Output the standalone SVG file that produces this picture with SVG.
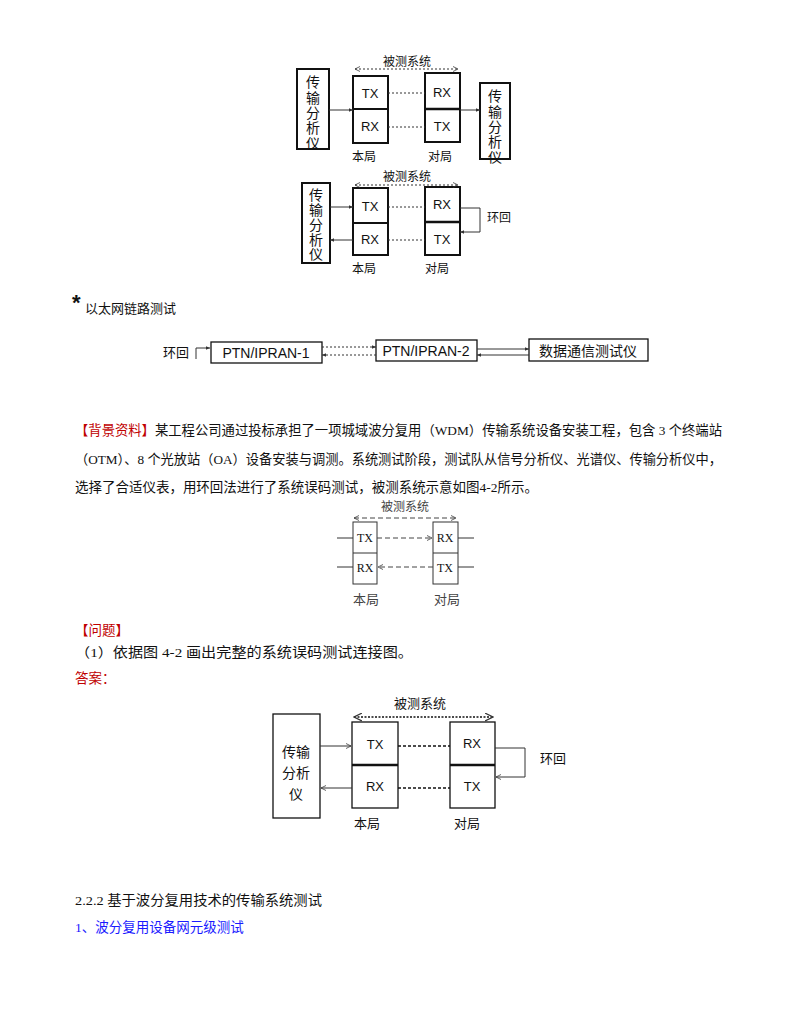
<svg xmlns="http://www.w3.org/2000/svg" width="800" height="1035" viewBox="0 0 800 1035">
<style>
.s{font-family:"Liberation Sans","Noto Sans CJK SC",sans-serif;fill:#111}
.r{font-family:"Liberation Serif","Noto Sans CJK SC",serif;fill:#111}
.b{fill:#fff;stroke:#111;stroke-width:2}
.t{fill:#fff;stroke:#111;stroke-width:1.3}
.ln{stroke:#333;stroke-width:1;fill:none}
.dt{stroke:#333;stroke-width:1;stroke-dasharray:2 2;fill:none}
.red{fill:#c00000}
.blue{fill:#1a1aff}
</style>
<defs>
<marker id="a" viewBox="0 0 8 8" refX="7" refY="4" markerWidth="6" markerHeight="6" orient="auto-start-reverse"><path d="M0,0.5 L7,4 L0,7.5" fill="none" stroke="#333" stroke-width="1"/></marker>
<marker id="f" viewBox="0 0 8 8" refX="7" refY="4" markerWidth="5" markerHeight="5" orient="auto-start-reverse"><path d="M0,1 L7,4 L0,7z" fill="#333"/></marker>
</defs>
<rect width="800" height="1035" fill="#fff"/>

<!-- Diagram 1 -->
<g id="d1">
<g id="d1-analyzer-l"><rect class="b" x="297" y="69" width="32" height="80"/>
<text class="s" font-size="14" text-anchor="middle"><tspan x="313" y="87">传</tspan><tspan x="313" y="103">输</tspan><tspan x="313" y="118">分</tspan><tspan x="313" y="133">析</tspan><tspan x="313" y="148">仪</tspan></text></g>
<g id="d1-local"><rect class="b" x="353" y="76" width="35" height="67"/><line x1="353" y1="109" x2="388" y2="109" stroke="#111" stroke-width="2"/>
<text class="s" font-size="13" text-anchor="middle" x="370" y="98">TX</text><text class="s" font-size="13" text-anchor="middle" x="370" y="131">RX</text></g>
<g id="d1-remote"><rect class="b" x="425" y="73" width="35" height="69"/><line x1="425" y1="109" x2="460" y2="109" stroke="#111" stroke-width="2.5"/>
<text class="s" font-size="13" text-anchor="middle" x="442" y="97">RX</text><text class="s" font-size="13" text-anchor="middle" x="442" y="131">TX</text></g>
<g id="d1-analyzer-r"><rect class="b" x="480" y="83" width="30" height="76"/>
<text class="s" font-size="14" text-anchor="middle"><tspan x="495" y="101">传</tspan><tspan x="495" y="117">输</tspan><tspan x="495" y="132">分</tspan><tspan x="495" y="147">析</tspan><tspan x="495" y="162">仪</tspan></text></g>
<text class="s" font-size="12" text-anchor="middle" x="407" y="66">被测系统</text>
<text class="s" font-size="12" text-anchor="middle" x="364" y="161">本局</text>
<text class="s" font-size="12" text-anchor="middle" x="440" y="161">对局</text>
<g id="d1-connectors">
<line class="dt" x1="355" y1="69" x2="458" y2="69" marker-start="url(#a)" marker-end="url(#a)"/>
<line class="ln" x1="329" y1="110" x2="353" y2="110" marker-end="url(#f)"/>
<line class="ln" x1="460" y1="110" x2="480" y2="110" marker-end="url(#f)"/>
<line class="dt" x1="388" y1="93" x2="425" y2="93"/>
<line class="dt" x1="388" y1="127" x2="425" y2="127"/>
</g></g>

<!-- Diagram 2 -->
<g id="d2">
<g id="d2-analyzer"><rect class="b" x="302" y="183" width="28" height="80"/>
<text class="s" font-size="14" text-anchor="middle"><tspan x="316" y="200">传</tspan><tspan x="316" y="215">输</tspan><tspan x="316" y="230">分</tspan><tspan x="316" y="245">析</tspan><tspan x="316" y="259">仪</tspan></text></g>
<g id="d2-local"><rect class="b" x="353" y="188" width="35" height="67"/><line x1="353" y1="223" x2="388" y2="223" stroke="#111" stroke-width="2"/>
<text class="s" font-size="13" text-anchor="middle" x="370" y="211">TX</text><text class="s" font-size="13" text-anchor="middle" x="370" y="244">RX</text></g>
<g id="d2-remote"><rect class="b" x="425" y="187" width="35" height="68"/><line x1="425" y1="222" x2="460" y2="222" stroke="#111" stroke-width="2.5"/>
<text class="s" font-size="13" text-anchor="middle" x="442" y="209">RX</text><text class="s" font-size="13" text-anchor="middle" x="442" y="244">TX</text></g>
<text class="s" font-size="12" text-anchor="middle" x="407" y="181">被测系统</text>
<text class="s" font-size="12" text-anchor="middle" x="364" y="273">本局</text>
<text class="s" font-size="12" text-anchor="middle" x="437" y="273">对局</text>
<text class="s" font-size="12" x="487" y="222">环回</text>
<g id="d2-connectors">
<line class="dt" x1="355" y1="185" x2="458" y2="185" marker-start="url(#a)" marker-end="url(#a)"/>
<line class="ln" x1="330" y1="207" x2="353" y2="207" marker-end="url(#f)"/>
<line class="ln" x1="353" y1="240" x2="330" y2="240" marker-end="url(#f)"/>
<line class="dt" x1="388" y1="207" x2="425" y2="207"/>
<line class="dt" x1="388" y1="240" x2="425" y2="240"/>
<polyline class="ln" points="460,208 480,208 480,232 460,232" marker-end="url(#f)"/>
</g></g>

<text class="s" font-size="22" font-weight="bold" x="72" y="310">*</text>
<text class="r" font-size="13" x="85" y="313">以太网链路测试</text>

<!-- Diagram 3 -->
<g id="d3">
<text class="s" font-size="13" x="163" y="357">环回</text>
<g id="d3-ptn1"><rect class="t" x="211" y="342" width="111" height="21"/><text class="s" font-size="14" text-anchor="middle" x="266" y="358">PTN/IPRAN-1</text></g>
<g id="d3-ptn2"><rect class="t" x="376" y="340" width="101" height="21"/><text class="s" font-size="14" text-anchor="middle" x="426" y="356">PTN/IPRAN-2</text></g>
<g id="d3-tester"><rect class="t" x="529" y="339" width="119" height="22"/><text class="s" font-size="14" text-anchor="middle" x="588" y="356">数据通信测试仪</text></g>
<g id="d3-connectors">
<polyline class="ln" points="196,359 196,348 210,348" marker-end="url(#f)"/>
<line class="dt" x1="322" y1="347" x2="376" y2="347" marker-end="url(#f)"/>
<line class="dt" x1="376" y1="355" x2="322" y2="355" marker-end="url(#f)"/>
<line class="ln" x1="477" y1="349" x2="529" y2="349" marker-end="url(#f)"/>
<line class="ln" x1="529" y1="355" x2="477" y2="355" marker-end="url(#f)"/>
</g></g>

<!-- Paragraph -->
<text class="r" font-size="13.5" x="75" y="435" textLength="647" lengthAdjust="spacingAndGlyphs"><tspan class="red">【背景资料】</tspan>某工程公司通过投标承担了一项城域波分复用（WDM）传输系统设备安装工程，包含 3 个终端站</text>
<text class="r" font-size="13.5" x="75" y="464" textLength="647" lengthAdjust="spacingAndGlyphs">（OTM）、8 个光放站（OA）设备安装与调测。系统测试阶段，测试队从信号分析仪、光谱仪、传输分析仪中，</text>
<text class="r" font-size="13.5" x="75" y="492" textLength="463" lengthAdjust="spacingAndGlyphs">选择了合适仪表，用环回法进行了系统误码测试，被测系统示意如图4-2所示。</text>

<!-- Diagram 4 -->
<g id="d4" fill="#444">
<g id="d4-local"><rect x="353" y="522" width="24" height="62" fill="#fff" stroke="#333"/><line x1="353" y1="553" x2="377" y2="553" stroke="#333"/>
<text class="r" font-size="12" text-anchor="middle" x="365" y="542" fill="#444">TX</text><text class="r" font-size="12" text-anchor="middle" x="365" y="572" fill="#444">RX</text></g>
<g id="d4-remote"><rect x="433" y="522" width="25" height="62" fill="#fff" stroke="#333"/><line x1="433" y1="553" x2="458" y2="553" stroke="#333"/>
<text class="r" font-size="12" text-anchor="middle" x="445" y="542" fill="#444">RX</text><text class="r" font-size="12" text-anchor="middle" x="445" y="572" fill="#444">TX</text></g>
<text class="r" font-size="12" text-anchor="middle" x="405" y="511" style="fill:#444">被测系统</text>
<text class="r" font-size="13" text-anchor="middle" x="366" y="604" style="fill:#444">本局</text>
<text class="r" font-size="13" text-anchor="middle" x="447" y="604" style="fill:#444">对局</text>
<g id="d4-connectors">
<line x1="354" y1="518" x2="456" y2="518" stroke="#444" stroke-dasharray="5 3" marker-start="url(#a)" marker-end="url(#a)"/>
<line class="ln" x1="337" y1="538" x2="353" y2="538"/><line class="ln" x1="337" y1="567" x2="353" y2="567"/>
<line class="ln" x1="458" y1="538" x2="474" y2="538"/><line class="ln" x1="458" y1="567" x2="474" y2="567"/>
<line x1="377" y1="538" x2="432" y2="538" stroke="#444" stroke-dasharray="5 3" marker-end="url(#a)"/>
<line x1="433" y1="567" x2="378" y2="567" stroke="#444" stroke-dasharray="5 3" marker-end="url(#a)"/>
</g></g>

<text class="r red" font-size="13.5" x="75" y="635">【问题】</text>
<text class="r" font-size="13.5" x="75" y="657" textLength="338" lengthAdjust="spacingAndGlyphs">（1）依据图 4-2 画出完整的系统误码测试连接图。</text>
<text class="r red" font-size="13.5" x="75" y="683">答案：</text>

<!-- Diagram 5 -->
<g id="d5">
<g id="d5-analyzer"><rect class="t" x="273" y="714" width="47" height="104"/>
<text class="s" font-size="14" text-anchor="middle"><tspan x="296" y="757">传输</tspan><tspan x="296" y="778">分析</tspan><tspan x="296" y="799">仪</tspan></text></g>
<g id="d5-local"><rect class="t" x="352" y="722" width="46" height="86"/><line x1="352" y1="765" x2="398" y2="765" stroke="#111" stroke-width="2.5"/>
<text class="s" font-size="13" text-anchor="middle" x="375" y="749">TX</text><text class="s" font-size="13" text-anchor="middle" x="375" y="791">RX</text></g>
<g id="d5-remote"><rect class="t" x="450" y="722" width="45" height="86"/><line x1="450" y1="765" x2="495" y2="765" stroke="#111" stroke-width="2.5"/>
<text class="s" font-size="13" text-anchor="middle" x="472" y="748">RX</text><text class="s" font-size="13" text-anchor="middle" x="472" y="791">TX</text></g>
<text class="s" font-size="13" text-anchor="middle" x="420" y="708">被测系统</text>
<text class="s" font-size="13" text-anchor="middle" x="367" y="828">本局</text>
<text class="s" font-size="13" text-anchor="middle" x="467" y="828">对局</text>
<text class="s" font-size="13" x="540" y="763">环回</text>
<g id="d5-connectors">
<line x1="354" y1="717" x2="493" y2="717" stroke="#111" stroke-width="1.5" stroke-dasharray="2 1.5" marker-start="url(#a)" marker-end="url(#a)"/>
<line class="ln" x1="320" y1="746" x2="351" y2="746" stroke-width="1.3" marker-end="url(#a)"/>
<line class="ln" x1="352" y1="788" x2="321" y2="788" stroke-width="1.3" marker-end="url(#a)"/>
<line x1="398" y1="746" x2="450" y2="746" stroke="#111" stroke-width="1.5" stroke-dasharray="3 2"/>
<line x1="398" y1="788" x2="450" y2="788" stroke="#111" stroke-width="1.5" stroke-dasharray="3 2"/>
<polyline class="ln" stroke-width="1.5" points="495,748 525,748 525,777 496,777" marker-end="url(#a)"/>
</g></g>

<text class="r" font-size="13.5" x="75" y="905" textLength="247" lengthAdjust="spacingAndGlyphs">2.2.2 基于波分复用技术的传输系统测试</text>
<text class="r blue" font-size="13.5" x="75" y="932">1、波分复用设备网元级测试</text>
</svg>
